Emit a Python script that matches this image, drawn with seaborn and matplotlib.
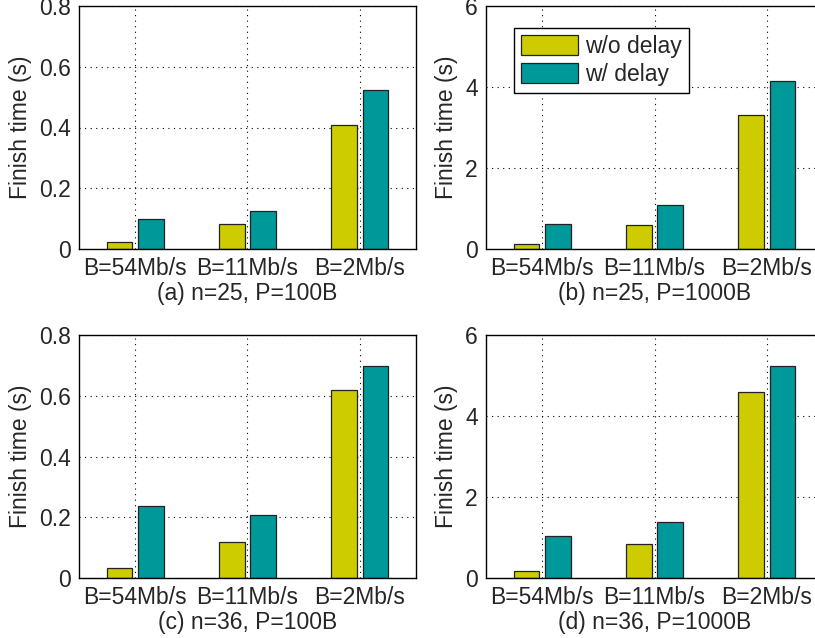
import matplotlib
matplotlib.use("Agg")
import matplotlib.pyplot as plt
import numpy as np
import pandas as pd
import seaborn as sns

bandwidths = ["B=54Mb/s", "B=11Mb/s", "B=2Mb/s"]
modes = ["w/o delay", "w/ delay"]

a_nodelay = [0.022, 0.083, 0.409]
a_delay = [0.098, 0.125, 0.522]
b_nodelay = [0.12, 0.59, 3.30]
b_delay = [0.62, 1.08, 4.16]
c_nodelay = [0.032, 0.120, 0.618]
c_delay = [0.237, 0.206, 0.698]
d_nodelay = [0.18, 0.845, 4.59]
d_delay = [1.04, 1.395, 5.23]

captions = ["(a) n=25, P=100B", "(b) n=25, P=1000B",
            "(c) n=36, P=100B", "(d) n=36, P=1000B"]
yticks_small = [0, 0.2, 0.4, 0.6, 0.8]
yticks_big = [0, 2, 4, 6]

panels = [(a_nodelay, a_delay), (b_nodelay, b_delay),
          (c_nodelay, c_delay), (d_nodelay, d_delay)]

sns.set_style("white")
plt.rcParams['font.family'] = ['Liberation Sans', 'DejaVu Sans']
fs = 16.5
plt.rcParams['font.size'] = fs

fig = plt.figure(figsize=(8.15, 6.38), dpi=100)
w = 337 / 815
h = 243 / 638
positions = [(79 / 815, 389 / 638), (486 / 815, 389 / 638),
             (79 / 815, 60 / 638), (486 / 815, 60 / 638)]

colors = ["#cccc00", "#009999"]

for i, (nod, dl) in enumerate(panels):
    ax = fig.add_axes([positions[i][0], positions[i][1], w, h])
    df = pd.DataFrame({
        "bw": bandwidths * 2,
        "time": nod + dl,
        "mode": [modes[0]] * 3 + [modes[1]] * 3,
    })
    sns.barplot(data=df, x="bw", y="time", hue="mode", order=bandwidths,
                hue_order=modes, palette=colors, saturation=1, width=0.56,
                gap=0.18, edgecolor="#222222", linewidth=0.9, ax=ax,
                legend=(i == 1))
    ax.set_xlim(-0.5, 2.5)
    ticks = yticks_small if i % 2 == 0 else yticks_big
    ax.set_ylim(ticks[0], ticks[-1])
    ax.set_yticks(ticks)
    ax.set_yticklabels(["0" if t == 0 else f"{t:g}" for t in ticks])
    ax.grid(True, axis="both", linestyle=(0, (1, 4)), color="black", linewidth=0.8)
    ax.set_axisbelow(True)
    for s in ax.spines.values():
        s.set_visible(True)
        s.set_color("black")
        s.set_linewidth(1.0)
    ax.tick_params(direction="in", length=4, width=0.8, color="black",
                   labelsize=fs, pad=6)
    ax.set_ylabel("Finish time (s)", fontsize=fs, labelpad=5)
    ax.set_xlabel(captions[i], fontsize=fs, labelpad=1)
    if i == 1:
        leg = ax.legend(loc="upper left", bbox_to_anchor=(0.083, 0.909),
                        borderaxespad=0, fancybox=False, framealpha=1,
                        edgecolor="black", handlelength=2.5, handleheight=1.0,
                        fontsize=fs, title=None, borderpad=0.3,
                        labelspacing=0.2, handletextpad=0.3)
        leg.get_frame().set_linewidth(1.0)

fig.savefig("out.png", dpi=100)
